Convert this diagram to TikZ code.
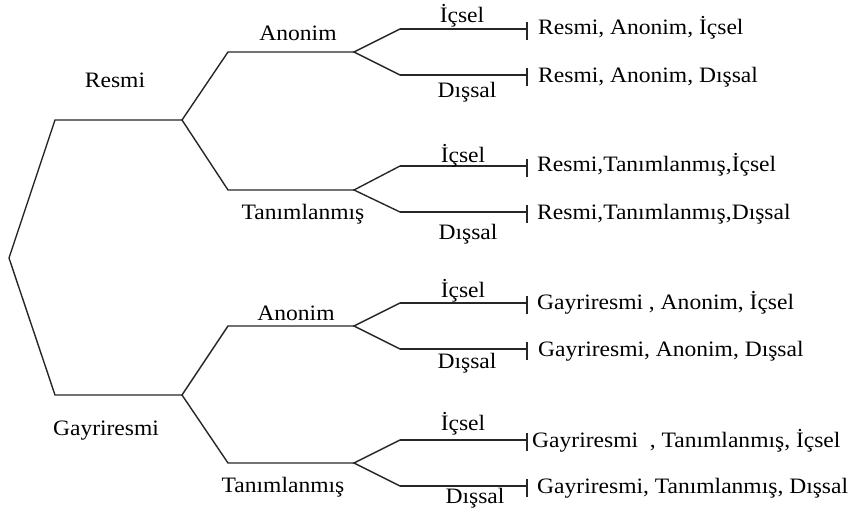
\documentclass[tikz,border=0pt]{standalone}
\usepackage{fontspec}
\setmainfont{Liberation Serif}[FakeStretch=1.07]
\begin{document}
\begin{tikzpicture}[x=1pt,y=-1pt,
  edge/.style={line width=1.4pt,draw=black!85},
  lbl/.style={anchor=base,inner sep=0pt,font=\fontsize{22}{26}\selectfont},
  leaf/.style={anchor=base west,inner sep=0pt,font=\fontsize{22}{26}\selectfont}]
\useasboundingbox (0,0) rectangle (858,510);

% root and first-level branch points
\coordinate (root) at (9,258);
\coordinate (r1) at (55,120);  \coordinate (r2) at (182,120);
\coordinate (g1) at (55,395);  \coordinate (g2) at (182,395);

% second level
\coordinate (ra1) at (228,52);  \coordinate (ra2) at (354,52);
\coordinate (rt1) at (228,190); \coordinate (rt2) at (354,190);
\coordinate (ga1) at (228,326); \coordinate (ga2) at (354,326);
\coordinate (gt1) at (228,463); \coordinate (gt2) at (354,463);

% leaves: start of horizontal and tick end
\foreach \n/\y in {a/29,b/75,c/166,d/212,e/303,f/349,g/440,h/486}{
  \coordinate (lf\n1) at (400,\y);
  \coordinate (lf\n2) at (527,\y);
}

\draw[edge] (r2) -- (r1) -- (root) -- (g1) -- (g2);
\draw[edge] (ra2) -- (ra1) -- (r2) -- (rt1) -- (rt2);
\draw[edge] (ga2) -- (ga1) -- (g2) -- (gt1) -- (gt2);
\draw[edge] (lfa1) -- (ra2) -- (lfb1);
\draw[edge] (lfc1) -- (rt2) -- (lfd1);
\draw[edge] (lfe1) -- (ga2) -- (lff1);
\draw[edge] (lfg1) -- (gt2) -- (lfh1);
\foreach \n in {a,b,c,d,e,f,g,h}{
  \draw[edge] (lf\n1) -- (lf\n2);
  \draw[edge] ([yshift=7pt]lf\n2) -- ([yshift=-11pt]lf\n2);
}

% branch labels
\node[lbl] (lresmi) at (115,88) {Resmi};
\node[lbl] (lgayri) at (106,435) {Gayriresmi};
\node[lbl] (lra) at (298,41) {Anonim};
\node[lbl] (lrt) at (303,220) {Tanımlanmış};
\node[lbl] (lga) at (296,320) {Anonim};
\node[lbl] (lgt) at (283,492) {Tanımlanmış};

\node[lbl] (i1) at (462,23) {İçsel};
\node[lbl] (o1) at (467,98) {Dışsal};
\node[lbl] (i2) at (463,163) {İçsel};
\node[lbl] (o2) at (468,240) {Dışsal};
\node[lbl] (i3) at (463,298) {İçsel};
\node[lbl] (o3) at (467,368) {Dışsal};
\node[lbl] (i4) at (463,430) {İçsel};
\node[lbl] (o4) at (475,503) {Dışsal};

% leaf texts
\node[leaf] (t1) at (538,35) {Resmi, Anonim, İçsel};
\node[leaf] (t2) at (538,83) {Resmi, Anonim, Dışsal};
\node[leaf] (t3) at (537,172) {Resmi,Tanımlanmış,İçsel};
\node[leaf] (t4) at (537,220) {Resmi,Tanımlanmış,Dışsal};
\node[leaf] (t5) at (537,309) {Gayriresmi , Anonim, İçsel};
\node[leaf] (t6) at (538,356) {Gayriresmi, Anonim, Dışsal};
\node[leaf] (t7) at (532,447) {Gayriresmi\ \ , Tanımlanmış, İçsel};
\node[leaf] (t8) at (537,493) {Gayriresmi, Tanımlanmış, Dışsal};
\end{tikzpicture}
\end{document}
